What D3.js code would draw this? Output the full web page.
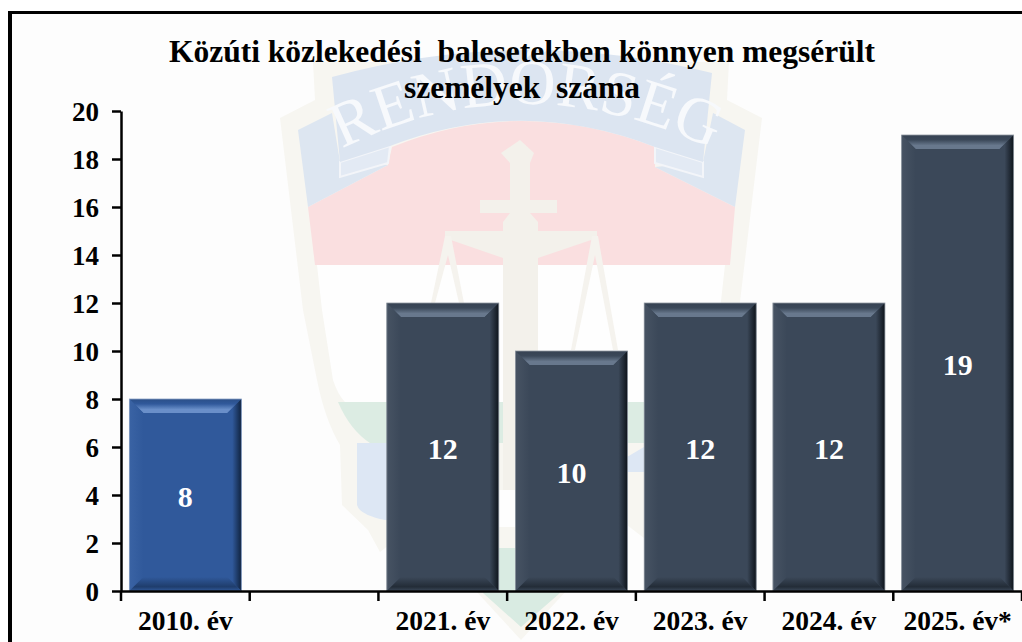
<!DOCTYPE html>
<html>
<head>
<meta charset="utf-8">
<script src="https://cdn.jsdelivr.net/npm/d3@7"></script>
<style>
  html, body { margin: 0; padding: 0; background: #fff; }
  svg { display: block; }
  text { font-family: "Liberation Serif", serif; font-weight: bold; }
</style>
</head>
<body>
<svg id="chart" width="1022" height="642"></svg>
<script>
// Data
const categories = ["2010. év", " ", "2021. év", "2022. év", "2023. év", "2024. év", "2025. év*"];
const values = [8, null, 12, 10, 12, 12, 19];
const barKinds = ["blue", null, "dark", "dark", "dark", "dark", "dark"];
const yTicks = [0, 2, 4, 6, 8, 10, 12, 14, 16, 18, 20];
const titleLines = ["Közúti közlekedési\u00A0 balesetekben könnyen megsérült", "személyek\u00A0 száma"];
const watermarkWord = "RENDŐRSÉG";

const svg = d3.select("#chart");
const margin = {top: 111, right: 0, bottom: 51, left: 121};
const width = 1022 - margin.left - margin.right;
const height = 642 - margin.top - margin.bottom;

// page
svg.append("rect").attr("x", 8).attr("y", 11).attr("width", 1014).attr("height", 631).attr("fill", "#fdfdfd");

// Watermark behind the chart (police badge)
const defs = svg.append("defs");
const wm = svg.append("g").attr("class", "watermark");
const shape = (d, fill) => wm.append("path").attr("d", d).attr("fill", fill);
const beige = "#f7f6f1";
// outer outline
shape("M313 62 L315 100 L280 118 L303 310 L317 380 Q325 420 340 445 L342 505 L368 530 L380 552 L415 525 L521 640 L627 525 L662 552 L674 530 L700 505 L702 445 Q717 420 725 380 L739 310 L762 118 L727 100 L729 62 Z", beige);
// white field + red stripe
shape("M317 265 L322 310 L333 380 Q338 395 345 402 H697 Q704 395 709 380 L720 310 L725 265 Z", "#fefefe");
shape("M308 207 L388 165 L392 147 Q521 95 655 147 L655 167 L735 207 L730 265 H315 Z", "#fadfe0");
// green stripe, blue panels, lower part
shape("M338 402 H704 Q692 430 672 443 H370 Q350 430 338 402 Z", "#dcece3");
shape("M357 443 H430 V520 H385 Q360 515 357 505 Z", "#dde7f4");
shape("M627 457 L644 447 L685 443 V505 Q680 515 660 515 L644 472 H627 Z", "#dde7f4");
shape("M498 548 H545 V575 L560 593 L521 627 L483 593 L498 575 Z", "#d9ebe2");
// ribbon
shape("M298 130 L332 113 L340 162 L388 165 L308 207 Z", "#dde6f1");
shape("M745 130 L713 113 L703 162 L655 167 L735 207 Z", "#dde6f1");
shape("M340 162 L340 177 L388 163 L390 146 Z", "#e3eaf4").attr("stroke", "#f3f5f9").attr("stroke-width", 2);
shape("M703 162 L703 177 L655 163 L655 147 Z", "#e3eaf4").attr("stroke", "#f3f5f9").attr("stroke-width", 2);
shape("M332 77 Q521 25 712 73 L703 162 L655 147 Q521 95 390 146 L340 162 Z", "#dce5f1");
// cross and scales
shape("M520 140 L534 153 L530 163 L530 200 L557 200 L557 213 L530 213 L538 222 V490 H503 V222 L510 213 L480 213 L480 200 L510 200 L510 163 L501 153 Z", "#f3f1eb");
shape("M445 231 H597 V238 L538 258 H503 L445 238 Z", "#f3f1eb");
shape("M445 236 L431 303 H435 L448 255 L459 303 H464 L451 236 Z", "#f5f3ee");
shape("M592 236 L571 350 H575 L595 255 L613 350 H618 L598 236 Z", "#f5f3ee");
shape("M498 490 H545 V527 H498 Z", "#fefefe");
// curved word on the ribbon
defs.append("path").attr("id", "wmArc").attr("d", "M348 146 Q521 62 706 146");
wm.append("text").attr("font-size", 64).attr("fill", "#f7f9fc")
  .style("font-weight", "normal")
  .append("textPath").attr("href", "#wmArc").attr("startOffset", "50%").attr("text-anchor", "middle")
  .text(watermarkWord);

// frame, left and top edges only are in the picture
svg.append("rect").attr("x", 8).attr("y", 11).attr("width", 4).attr("height", 631).attr("fill", "#000");
svg.append("rect").attr("x", 8).attr("y", 11).attr("width", 1014).attr("height", 3).attr("fill", "#000");

const g = svg.append("g").attr("transform", `translate(${margin.left},${margin.top})`);

// Scales
const x = d3.scaleBand().domain(categories).range([0, width]).paddingInner(0.13).paddingOuter(0.065);
const y = d3.scaleLinear().domain([0, 20]).range([height, 0]);

// Gradients for the bevelled bars
const palette = {
  dark: {main: "#3b4859", top: "#68788d", topEdge: "#364252", right: "#0e141b", left: "#475363", bottom: "#232c37", edge: "#8f97a1"},
  blue: {main: "#30599b", top: "#6a8fc9", topEdge: "#2b4f88", right: "#10233f", left: "#3a63a4", bottom: "#1f3d6c", edge: "#8aa0c4"}
};
const grad = (id, vertical, stops) => {
  const lg = defs.append("linearGradient").attr("id", id)
    .attr("x1", 0).attr("y1", 0).attr("x2", vertical ? 0 : 1).attr("y2", vertical ? 1 : 0);
  stops.forEach(s => lg.append("stop").attr("offset", s[0]).attr("stop-color", s[1]));
};
Object.entries(palette).forEach(([k, c]) => {
  grad(k + "-top", true, [[0, c.topEdge], [0.35, c.main], [0.75, c.top], [1, c.top]]);
  grad(k + "-right", false, [[0, c.main], [0.35, c.main], [1, c.right]]);
  grad(k + "-left", false, [[0, c.left], [1, c.main]]);
  grad(k + "-bottom", true, [[0, c.main], [0.7, c.bottom], [1, c.main]]);
});

// Bars
const bevel = 14;
const bars = categories.map((c, i) => ({c, v: values[i], kind: barKinds[i]})).filter(d => d.v !== null);
const bar = g.selectAll(".bar").data(bars).enter().append("g")
  .attr("class", "bar")
  .attr("transform", d => `translate(${x(d.c)},${y(d.v)})`);
const bw = x.bandwidth();
const bh = d => height - y(d.v);
bar.append("rect").attr("width", bw).attr("height", bh).attr("fill", d => palette[d.kind].main);
bar.append("polygon")
  .attr("points", `0,0 ${bw},0 ${bw - bevel},${bevel} ${bevel},${bevel}`)
  .attr("fill", d => `url(#${d.kind}-top)`);
bar.append("polygon")
  .attr("points", d => `${bw},0 ${bw},${bh(d)} ${bw - bevel},${bh(d) - bevel} ${bw - bevel},${bevel}`)
  .attr("fill", d => `url(#${d.kind}-right)`);
bar.append("polygon")
  .attr("points", d => `0,0 ${bevel},${bevel} ${bevel},${bh(d) - bevel} 0,${bh(d)}`)
  .attr("fill", d => `url(#${d.kind}-left)`);
bar.append("polygon")
  .attr("points", d => `0,${bh(d)} ${bevel},${bh(d) - bevel} ${bw - bevel},${bh(d) - bevel} ${bw},${bh(d)}`)
  .attr("fill", d => `url(#${d.kind}-bottom)`);
bar.append("rect").attr("width", bw).attr("height", bh)
  .attr("fill", "none").attr("stroke", d => palette[d.kind].edge).attr("stroke-width", 0.8);

// Value labels
bar.append("text")
  .attr("x", bw / 2).attr("y", d => bh(d) / 2 + 12)
  .attr("text-anchor", "middle").attr("font-size", 30).attr("fill", "#fff")
  .text(d => d.v);

// Axes
const yAxis = g.append("g").call(d3.axisLeft(y).tickValues(yTicks).tickSize(9).tickSizeOuter(0).tickPadding(13));
yAxis.selectAll("text").attr("font-size", 27).attr("fill", "#000").attr("dy", "0.34em");
yAxis.selectAll("line").attr("stroke", "#000").attr("stroke-width", 2.5);
yAxis.select(".domain").attr("stroke", "#000").attr("stroke-width", 2.5);

const xAxis = g.append("g").attr("transform", `translate(0,${height})`)
  .call(d3.axisBottom(x).tickSize(0).tickSizeOuter(0).tickPadding(19));
xAxis.selectAll("text").attr("font-size", 27.5).attr("fill", "#000").attr("dy", "0.71em");
xAxis.select(".domain").attr("stroke", "#000").attr("stroke-width", 2.5);

// tick marks sit on the band edges
g.append("g").selectAll("line").data(d3.range(categories.length + 1)).enter().append("line")
  .attr("x1", i => i * x.step()).attr("x2", i => i * x.step())
  .attr("y1", height).attr("y2", height + 10)
  .attr("stroke", "#000").attr("stroke-width", 2.5);

// Title
svg.append("g").selectAll("text").data(titleLines).enter().append("text")
  .attr("x", 522).attr("y", (d, i) => 62 + i * 36)
  .attr("text-anchor", "middle").attr("font-size", 31.5).attr("fill", "#000")
  .text(d => d);
</script>
</body>
</html>
